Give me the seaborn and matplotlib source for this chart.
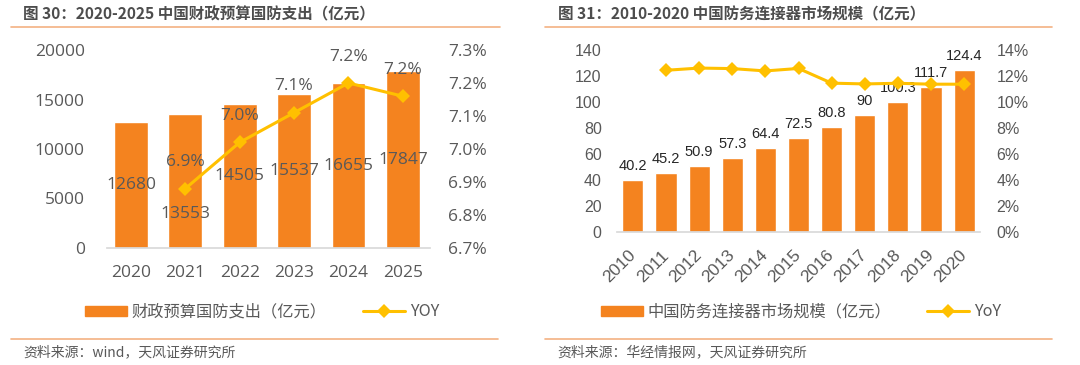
import numpy as np
import matplotlib
matplotlib.use("Agg")
import matplotlib.pyplot as plt
import seaborn as sns
from matplotlib.lines import Line2D
from matplotlib.patches import Patch

# Left chart: defence budget 2020-2025
budget_years = ["2020", "2021", "2022", "2023", "2024", "2025"]
budget_values = [12680, 13553, 14505, 15537, 16655, 17847]
budget_yoy_years = ["2021", "2022", "2023", "2024", "2025"]
budget_yoy = [6.88, 7.02, 7.11, 7.20, 7.16]

# Right chart: military connector market 2010-2020
conn_years = ["2010", "2011", "2012", "2013", "2014", "2015",
              "2016", "2017", "2018", "2019", "2020"]
conn_values = [40.2, 45.2, 50.9, 57.3, 64.4, 72.5, 80.8, 90, 100.3, 111.7, 124.4]
conn_yoy_years = conn_years[1:]
conn_yoy = [12.44, 12.61, 12.57, 12.39, 12.58, 11.45, 11.39, 11.44, 11.37, 11.37]

BAR = "#F4831F"
LINE = "#FFC000"
GREY = "#595959"
RULE = "#F4B183"

sns.set_theme(style="white")
plt.rcParams["font.family"] = ["Noto Sans CJK SC", "DejaVu Sans"]

W, H = 1080, 365
fig = plt.figure(figsize=(W / 100, H / 100), dpi=100)


def px_rect(x0, y0, x1, y1):
    # pixel box (top-left origin) -> figure fraction rect
    return [x0 / W, 1 - y1 / H, (x1 - x0) / W, (y1 - y0) / H]


def hline(x0, x1, y):
    fig.add_artist(Line2D([x0 / W, x1 / W], [1 - y / H, 1 - y / H],
                          transform=fig.transFigure, color=RULE, lw=1.2))


# ---------------- left panel ----------------
ax1 = fig.add_axes(px_rect(107, 50, 430, 248))
sns.barplot(x=budget_years, y=budget_values, ax=ax1, color=BAR,
            saturation=1, width=0.62)
ax1.set_ylim(0, 20000)
ax1.set_yticks(range(0, 20001, 5000))
ax1.set_xlim(-0.44, 5.5)
for i, v in enumerate(budget_values):
    dy = -24 if i == 1 else 0
    ax1.annotate(str(v), (i, v / 2), xytext=(0, dy), textcoords="offset points",
                 ha="center", va="center", fontsize=12.5, color=GREY,
                 family=["Open Sans", "DejaVu Sans"])

ax1b = ax1.twinx()
xpos = [budget_years.index(y) for y in budget_yoy_years]
sns.lineplot(x=xpos, y=budget_yoy, ax=ax1b, color=LINE, lw=2.2,
             marker="D", markersize=7, markeredgewidth=0)
ax1b.set_ylim(6.7, 7.3)
ax1b.set_yticks(np.arange(6.7, 7.31, 0.1))
ax1b.set_yticklabels([f"{t:.1f}%" for t in np.arange(6.7, 7.31, 0.1)])
for x, v in zip(xpos, budget_yoy):
    ax1b.annotate(f"{v:.1f}%", (x, v), xytext=(0, 19), textcoords="offset points",
                  ha="center", va="center", fontsize=12.5, color=GREY,
                  family=["Open Sans", "DejaVu Sans"])

for a in (ax1, ax1b):
    for s in a.spines.values():
        s.set_visible(False)
    a.tick_params(length=0, labelsize=12.5, colors=GREY)
    for lab in a.get_xticklabels() + a.get_yticklabels():
        lab.set_family(["Open Sans", "DejaVu Sans"])
ax1.spines["bottom"].set_visible(True)
ax1.spines["bottom"].set_color("#D9D9D9")
ax1.tick_params(axis="y", pad=16)
ax1.tick_params(axis="x", pad=12)
ax1b.tick_params(axis="y", pad=13)
ax1.set_xlabel("")
ax1.set_ylabel("")
ax1b.set_ylabel("")

# ---------------- right panel ----------------
ax2 = fig.add_axes(px_rect(617, 50, 980, 232))
sns.barplot(x=conn_years, y=conn_values, ax=ax2, color=BAR,
            saturation=1, width=0.64)
ax2.set_ylim(0, 140)
ax2.set_yticks(range(0, 141, 20))
ax2.set_xlim(-0.48, 10.48)
for i, v in enumerate(conn_values):
    ax2.annotate(f"{v:g}", (i, v), xytext=(0, 5), textcoords="offset points",
                 ha="center", va="bottom", fontsize=10.5, color="#262626",
                 family=["Liberation Sans", "DejaVu Sans"])

ax2b = ax2.twinx()
xpos2 = [conn_years.index(y) for y in conn_yoy_years]
sns.lineplot(x=xpos2, y=conn_yoy, ax=ax2b, color=LINE, lw=2.2,
             marker="D", markersize=7, markeredgewidth=0)
ax2b.set_ylim(0, 14)
ax2b.set_yticks(range(0, 15, 2))
ax2b.set_yticklabels([f"{t}%" for t in range(0, 15, 2)])

for a in (ax2, ax2b):
    for s in a.spines.values():
        s.set_visible(False)
    a.tick_params(length=0, labelsize=11.5, colors=GREY)
    for lab in a.get_xticklabels() + a.get_yticklabels():
        lab.set_family(["Liberation Sans", "DejaVu Sans"])
ax2.spines["bottom"].set_visible(True)
ax2.spines["bottom"].set_color("#D9D9D9")
ax2.tick_params(axis="y", pad=11)
ax2.tick_params(axis="x", pad=15, labelsize=12.5)
ax2b.tick_params(axis="y", pad=12)
for lab in ax2.get_xticklabels():
    lab.set_rotation(45)
    lab.set_ha("right")
    lab.set_va("center")
    lab.set_rotation_mode("anchor")
ax2.set_xlabel("")
ax2.set_ylabel("")
ax2b.set_ylabel("")

# ---------------- titles, rules, legends, sources ----------------
fig.text(23 / W, 1 - 14 / H, "图 30：2020-2025 中国财政预算国防支出（亿元）",
         ha="left", va="center", fontsize=11.2, fontweight="bold", color="#4D4D4D")
fig.text(558 / W, 1 - 14 / H, "图 31：2010-2020 中国防务连接器市场规模（亿元）",
         ha="left", va="center", fontsize=11.2, fontweight="bold", color="#4D4D4D")
hline(11, 500, 27)
hline(545, 1052, 27)
hline(11, 498, 339)
hline(545, 1052, 339)
fig.text(23 / W, 1 - 352 / H, "资料来源：wind，天风证券研究所",
         ha="left", va="center", fontsize=10, color=GREY)
fig.text(557 / W, 1 - 352 / H, "资料来源：华经情报网，天风证券研究所",
         ha="left", va="center", fontsize=10, color=GREY)

line_handle = Line2D([], [], color=LINE, lw=2.2, marker="D", markersize=7,
                     markeredgewidth=0)
leg_kw = dict(loc="center", ncol=2, frameon=False, fontsize=11.7,
              handlelength=2.6, handleheight=0.6, handletextpad=0.3,
              columnspacing=2.2, labelcolor=GREY)
fig.legend([Patch(color=BAR), line_handle], ["财政预算国防支出（亿元）", "YOY"],
           bbox_to_anchor=(262 / W, 1 - 312 / H), **leg_kw)
fig.legend([Patch(color=BAR), line_handle], ["中国防务连接器市场规模（亿元）", "YoY"],
           bbox_to_anchor=(801 / W, 1 - 312 / H), **leg_kw)

fig.savefig("out.png", dpi=100)
